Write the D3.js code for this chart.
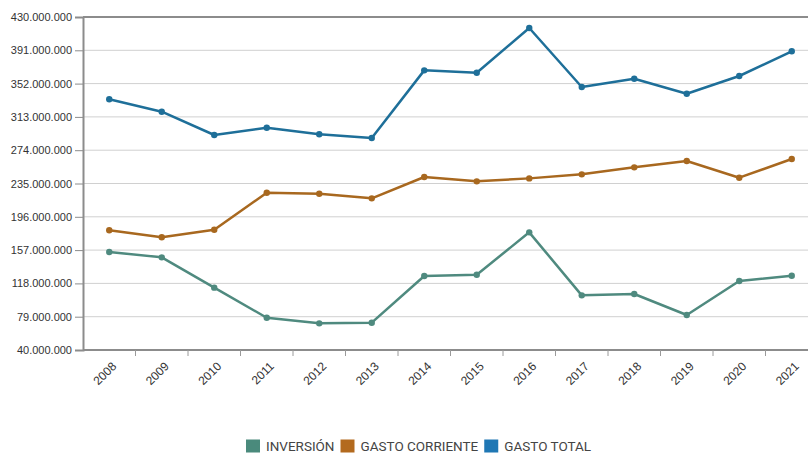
<!DOCTYPE html>
<html><head><meta charset="utf-8">
<script src="https://cdn.jsdelivr.net/npm/d3@7"></script>
<style>
html,body{margin:0;padding:0;background:#fff;overflow:hidden}
svg{display:block}
</style></head>
<body>
<svg id="chart" width="808" height="453"></svg>
<script>
const years = ["2008","2009","2010","2011","2012","2013","2014","2015","2016","2017","2018","2019","2020","2021"];
const inversion = [154.8,148.5,113.0,77.8,71.2,72.0,126.7,128.2,177.8,104.0,105.6,81.0,120.8,127.0].map(v=>v*1e6);
const gastoCorriente = [180.2,172.0,180.9,224.2,223.0,217.6,242.6,237.5,241.0,245.7,253.9,261.3,241.8,263.7].map(v=>v*1e6);
const gastoTotal = [333.6,319.1,291.8,300.3,292.6,288.3,367.5,364.7,417.1,348.0,357.7,340.1,360.9,389.8].map(v=>v*1e6);
const yTicks = [40e6,79e6,118e6,157e6,196e6,235e6,274e6,313e6,352e6,391e6,430e6];
const seriesNames = ["INVERSIÓN","GASTO CORRIENTE","GASTO TOTAL"];
const seriesColors = ["#4f8a7f","#a8681f","#1e6f99"];
const swatchColors = ["#4a8a7c","#b36a1e","#1f77b4"];

(function(){
const svg = d3.select("#chart");
const mL = 83, mR = 818, mT = 17, mB = 350;
const x = d3.scaleBand().domain(years).range([mL, mR]);
const y = d3.scaleLinear().domain([40e6, 430e6]).range([mB, mT]);
const fmt = v => d3.format(",")(v).replace(/,/g, ".");

// gridlines
svg.append("g").selectAll("line").data(yTicks.slice(1)).join("line")
  .attr("x1", mL).attr("x2", 808)
  .attr("y1", d => y(d)).attr("y2", d => y(d))
  .attr("stroke", d => d === 430e6 ? "#8c8c8c" : "#d0d0d0")
  .attr("stroke-width", d => d === 430e6 ? 2 : 1);

// y axis
const yAxis = svg.append("g").attr("transform", `translate(${mL},0)`)
  .call(d3.axisLeft(y).tickValues(yTicks).tickFormat(fmt).tickSize(8).tickPadding(3));
yAxis.select(".domain").attr("stroke", "#8c8c8c").attr("stroke-width", 2);
yAxis.selectAll(".tick line").attr("stroke", "#8c8c8c");
yAxis.selectAll("text").attr("font-family", "Liberation Sans, Arial, sans-serif").attr("font-size", 11).attr("fill", "#333");

// x axis
const xAxis = svg.append("g").attr("transform", `translate(0,${mB})`);
xAxis.append("line").attr("x1", mL).attr("x2", 808).attr("y1", 0).attr("y2", 0)
  .attr("stroke", "#8c8c8c").attr("stroke-width", 2);
xAxis.selectAll("line.tk").data(years).join("line").attr("class","tk")
  .attr("x1", d => x(d) + x.bandwidth()).attr("x2", d => x(d) + x.bandwidth())
  .attr("y1", 0).attr("y2", 6).attr("stroke", "#9a9a9a");
xAxis.selectAll("text").data(years).join("text")
  .attr("transform", d => `translate(${x(d) + x.bandwidth()/2 + 5},${14}) rotate(-45)`)
  .attr("text-anchor", "end").attr("dy", "0.35em")
  .attr("font-family", "Liberation Sans, Arial, sans-serif").attr("font-size", 12).attr("fill", "#333")
  .text(d => d);

// lines
const allSeries = [inversion, gastoCorriente, gastoTotal];
const line = d3.line().x((d,i) => x(years[i]) + x.bandwidth()/2).y(d => y(d));
allSeries.forEach((s, k) => {
  const g = svg.append("g");
  g.append("path").datum(s).attr("d", line).attr("fill", "none")
    .attr("stroke", seriesColors[k]).attr("stroke-width", 2.5).attr("stroke-linejoin", "round");
  g.selectAll("circle").data(s).join("circle")
    .attr("cx", (d,i) => x(years[i]) + x.bandwidth()/2).attr("cy", d => y(d)).attr("r", 3.2)
    .attr("fill", seriesColors[k]);
});

// legend
const leg = svg.append("g");
let lx = 246;
const ly = 446;
seriesNames.forEach((n, k) => {
  leg.append("rect").attr("x", lx).attr("y", ly - 6.5).attr("width", 14).attr("height", 13).attr("fill", swatchColors[k]);
  const t = leg.append("text").attr("x", lx + 20).attr("y", ly).attr("dy", "0.36em")
    .attr("font-family", "Roboto, Arial, sans-serif").attr("font-size", 13.5).attr("fill", "#444").text(n);
  lx += 20 + t.node().getComputedTextLength() + 6;
});
})();
</script>
</body></html>
